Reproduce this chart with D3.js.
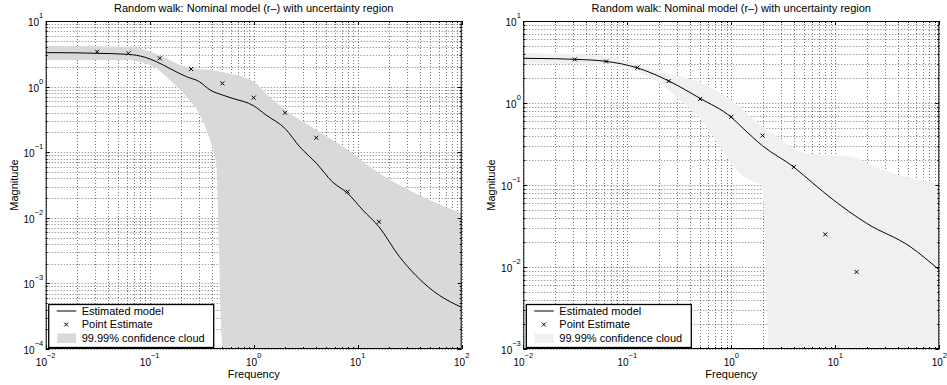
<!DOCTYPE html>
<html>
<head>
<meta charset="utf-8">
<script src="https://cdn.jsdelivr.net/npm/d3@7"></script>
<style>
  body { margin: 0; background: #fff; }
  svg { display: block; }
  text { font-family: "Liberation Sans", Arial, Helvetica, sans-serif; fill: #000; }
</style>
</head>
<body>
<svg id="chart" width="947" height="385"></svg>
<script>
// point estimates (same in both panels)
const pointFreq = [0.03125, 0.0625, 0.125, 0.25, 0.5, 1, 2, 4, 8, 16];
const pointMag = [3.40, 3.21, 2.70, 1.85, 1.12, 0.678, 0.40, 0.166, 0.025, 0.0087];

// left panel: estimated model and 99.99% cloud
const leftModelFreq = [0.01, 0.02, 0.03125, 0.0625, 0.09, 0.116, 0.16, 0.225, 0.30, 0.38, 0.5, 0.63, 1, 1.31, 2, 2.77, 4, 5.7, 8, 11.2, 16, 25, 52, 100];
const leftModelMag = [3.30, 3.27, 3.22, 3.10, 2.80, 2.40, 1.85, 1.42, 1.19, 0.89, 0.745, 0.66, 0.51, 0.37, 0.23, 0.121, 0.068, 0.0355, 0.0236, 0.0131, 0.0073, 0.0026, 0.00079, 0.00043];
const leftUpperFreq = [0.01, 0.03, 0.0625, 0.09, 0.12, 0.225, 0.48, 1.0, 1.31, 2, 4, 8, 16, 49, 100];
const leftUpperMag = [4.16, 4.12, 4.0, 3.6, 3.03, 2.0, 1.69, 1.19, 0.79, 0.44, 0.22, 0.108, 0.048, 0.0186, 0.0117];
const leftLowerFreq = [0.01, 0.0612, 0.08, 0.116, 0.168, 0.226, 0.303, 0.38, 0.44, 0.45, 0.505, 100];
const leftLowerMag = [2.55, 2.55, 2.40, 1.90, 1.12, 0.70, 0.37, 0.153, 0.06, 0.0186, 0.0001, 0.0001];

// right panel
const rightModelFreq = [0.01, 0.02, 0.03125, 0.0625, 0.125, 0.25, 0.5, 1, 1.3, 2, 4, 6.1, 9.6, 20, 52.5, 100];
const rightModelMag = [3.51, 3.47, 3.41, 3.22, 2.68, 1.86, 1.14, 0.67, 0.49, 0.30, 0.165, 0.105, 0.0656, 0.0341, 0.0177, 0.0092];
const rightUpperFreq = [0.01, 0.03, 0.0625, 0.125, 0.206, 0.43, 0.9, 1.4, 1.89, 2.19, 3.0, 4.57, 7, 13.8, 28.7, 100];
const rightUpperMag = [4.04, 3.95, 3.67, 2.97, 2.41, 1.91, 1.19, 0.75, 0.54, 0.47, 0.36, 0.255, 0.235, 0.221, 0.152, 0.103];
const rightLowerFreq = [0.01, 0.03, 0.0625, 0.125, 0.2, 0.25, 0.321, 0.5, 0.67, 0.9, 1.21, 1.64, 1.96, 2.0, 2.32, 100];
const rightLowerMag = [3.05, 3.0, 2.90, 2.41, 1.75, 1.44, 1.09, 0.65, 0.39, 0.222, 0.139, 0.11, 0.1, 0.085, 0.001, 0.001];

const titleText = 'Random walk: Nominal model (r\u2013) with uncertainty region';
const legendLabels = ['Estimated model', 'Point Estimate', '99.99% confidence cloud'];
const xTickExp = ['\u22122', '\u22121', '0', '1', '2'];

const svg = d3.select('#chart');
const plotW = 416, plotTop = 21, plotBottom = 349;

const zip = (f, m) => f.map((v, i) => [v, m[i]]);

function drawPanel(id, left, yDomain, yExp, model, upper, lower, cloudColor) {
    const x = d3.scaleLog().domain([1e-2, 1e2]).range([left, left + plotW]);
    const y = d3.scaleLog().domain(yDomain).range([plotBottom, plotTop]);
    const g = svg.append('g');
    const isMajor = v => Math.abs(Math.log10(v) - Math.round(Math.log10(v))) < 1e-9;

    g.append('clipPath').attr('id', id)
        .append('rect').attr('x', left).attr('y', plotTop).attr('width', plotW).attr('height', plotBottom - plotTop);

    // dotted grid at every major and minor tick
    const grid = g.append('g').attr('stroke', '#555').attr('stroke-width', 0.8).attr('stroke-dasharray', '1,2');
    grid.selectAll('.gx').data(x.ticks()).join('line')
        .attr('x1', d => Math.round(x(d)) + 0.5).attr('x2', d => Math.round(x(d)) + 0.5)
        .attr('y1', plotTop).attr('y2', plotBottom);
    grid.selectAll('.gy').data(y.ticks()).join('line')
        .attr('y1', d => Math.round(y(d)) + 0.5).attr('y2', d => Math.round(y(d)) + 0.5)
        .attr('x1', left).attr('x2', left + plotW);

    // confidence cloud
    const line = d3.line().x(d => x(d[0])).y(d => y(d[1])).curve(d3.curveMonotoneX);
    const upPath = line(upper);
    const lowPath = line(lower.slice().reverse());
    g.append('path')
        .attr('clip-path', `url(#${id})`)
        .attr('d', upPath + 'L' + lowPath.slice(1) + 'Z')
        .attr('fill', cloudColor);

    // estimated model
    g.append('path').attr('clip-path', `url(#${id})`)
        .attr('d', line(model)).attr('fill', 'none').attr('stroke', '#000').attr('stroke-width', 1);

    // point estimates
    g.selectAll('.pt').data(zip(pointFreq, pointMag)).join('path')
        .attr('transform', d => `translate(${x(d[0])},${y(d[1])})`)
        .attr('d', 'M-2,-2L2,2M-2,2L2,-2')
        .attr('stroke', '#000').attr('stroke-width', 1);

    // ticks inside the box on all sides
    const ticks = g.append('g').attr('stroke', '#000').attr('stroke-width', 1);
    x.ticks().forEach(v => {
        const len = isMajor(v) ? 4 : 2;
        const px = Math.round(x(v)) + 0.5;
        ticks.append('line').attr('x1', px).attr('x2', px).attr('y1', plotBottom).attr('y2', plotBottom - len);
        ticks.append('line').attr('x1', px).attr('x2', px).attr('y1', plotTop).attr('y2', plotTop + len);
    });
    y.ticks().forEach(v => {
        const len = isMajor(v) ? 4 : 2;
        const py = Math.round(y(v)) + 0.5;
        ticks.append('line').attr('y1', py).attr('y2', py).attr('x1', left).attr('x2', left + len);
        ticks.append('line').attr('y1', py).attr('y2', py).attr('x1', left + plotW).attr('x2', left + plotW - len);
    });

    g.append('rect').attr('x', left + 0.5).attr('y', plotTop + 0.5)
        .attr('width', plotW - 1).attr('height', plotBottom - plotTop - 1)
        .attr('fill', 'none').attr('stroke', '#000').attr('stroke-width', 1);

    // tick labels 10^n
    x.ticks().filter(isMajor).forEach((v, i) => {
        const t = g.append('text').attr('x', x(v)).attr('y', 366).attr('text-anchor', 'middle').attr('font-size', 10);
        t.append('tspan').text('10');
        t.append('tspan').attr('dy', -8).attr('font-size', 7.5).text(xTickExp[i]);
    });
    y.ticks().filter(isMajor).forEach((v, i) => {
        const t = g.append('text').attr('x', left - 2.5).attr('y', y(v) + 5).attr('text-anchor', 'end').attr('font-size', 10);
        t.append('tspan').text('10');
        t.append('tspan').attr('dy', -8).attr('font-size', 7.5).text(yExp[i]);
    });

    g.append('text').attr('x', left + plotW / 2).attr('y', 12).attr('text-anchor', 'middle')
        .attr('font-size', 11).text(titleText);
    g.append('text').attr('x', left + plotW / 2).attr('y', 378).attr('text-anchor', 'middle')
        .attr('font-size', 11).text('Frequency');
    g.append('text').attr('transform', `translate(${left - 28},185) rotate(-90)`).attr('text-anchor', 'middle')
        .attr('font-size', 11).text('Magnitude');

    // legend
    const lx = left + 3, ly = 304.5;
    const lg = g.append('g');
    lg.append('rect').attr('x', lx).attr('y', ly).attr('width', 165).attr('height', 43)
        .attr('fill', '#fff').attr('stroke', '#000').attr('stroke-width', 1.3);
    lg.append('line').attr('x1', lx + 8).attr('x2', lx + 27.5).attr('y1', ly + 6.5).attr('y2', ly + 6.5)
        .attr('stroke', '#555').attr('stroke-width', 1.5);
    lg.append('path').attr('transform', `translate(${lx + 17.5},${ly + 20})`)
        .attr('d', 'M-2,-2L2,2M-2,2L2,-2').attr('stroke', '#000').attr('stroke-width', 1);
    lg.append('rect').attr('x', lx + 8.5).attr('y', ly + 29).attr('width', 19).attr('height', 9.5).attr('fill', cloudColor);
    legendLabels.forEach((s, i) => {
        lg.append('text').attr('x', lx + 33).attr('y', ly + 10.5 + i * 13.3).attr('font-size', 11).text(s);
    });
}

drawPanel('clipL', 45.7, [1e-4, 1e1], ['\u22124', '\u22123', '\u22122', '\u22121', '0', '1'],
    zip(leftModelFreq, leftModelMag), zip(leftUpperFreq, leftUpperMag), zip(leftLowerFreq, leftLowerMag), '#d9d9d9');
drawPanel('clipR', 523.3, [1e-3, 1e1], ['\u22123', '\u22122', '\u22121', '0', '1'],
    zip(rightModelFreq, rightModelMag), zip(rightUpperFreq, rightUpperMag), zip(rightLowerFreq, rightLowerMag), '#f0f0f0');
</script>
</body>
</html>
